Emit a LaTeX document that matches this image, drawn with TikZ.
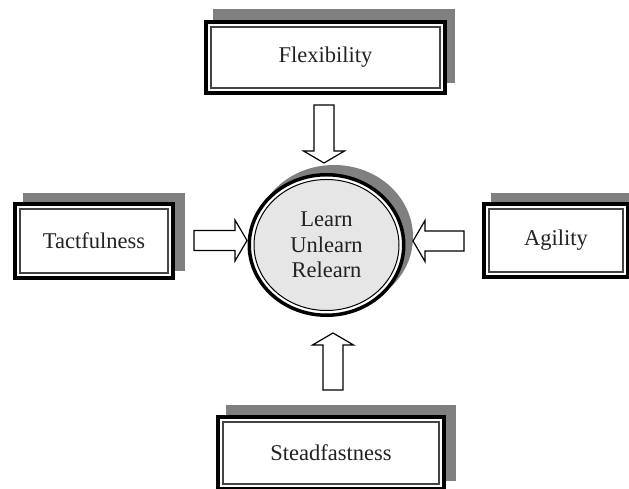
\documentclass[tikz,border=0pt]{standalone}
\usepackage{fontspec}
\setmainfont{Liberation Serif}
\usetikzlibrary{calc,shadows,shapes.geometric}

\definecolor{shadowgray}{HTML}{808080}
\definecolor{discfill}{HTML}{E6E6E6}
\definecolor{inkgray}{HTML}{222222}
\definecolor{rulegray}{HTML}{444444}

\tikzset{
  x=1pt, y=1pt,
  label text/.style={font=\fontsize{22.5}{25.5}\selectfont, text=inkgray, align=center},
  gray shadow/.style 2 args={general shadow={fill=shadowgray, draw=shadowgray,
      line width=3.5pt, shadow xshift=#1pt, shadow yshift=#2pt}},
  framebox/.style={rectangle, draw=black, line width=3.5pt, fill=white,
      inner sep=0pt, label text,
      path picture={\draw[rulegray, line width=1.2pt]
        ([shift={(5,-5)}]path picture bounding box.north west) rectangle
        ([shift={(-5,5)}]path picture bounding box.south east);}},
  hub/.style={ellipse, draw=black, line width=3.5pt, fill=white,
      inner sep=0pt, label text,
      path picture={\draw[black, line width=1pt, fill=discfill]
        (path picture bounding box.center) ellipse [x radius=72.5, y radius=65.5];}},
  blockarrow/.style={draw=black, fill=white, line width=1.2pt, line join=miter},
}

% hollow block arrow from #1 (tail) to #2 (tip)
\newcommand{\blockarrow}[2]{%
  \path ($(#2)!12pt!(#1)$) coordinate (neck);
  \draw[blockarrow]
    ($(#1)!10pt!90:(#2)$) -- ($(neck)!10pt!-90:(#1)$) --
    ($(neck)!20.5pt!-90:(#1)$) -- (#2) --
    ($(neck)!20.5pt!90:(#1)$) -- ($(neck)!10pt!90:(#1)$) --
    ($(#1)!10pt!-90:(#2)$) -- cycle;}

\begin{document}
\begin{tikzpicture}
  \useasboundingbox (0,0) rectangle (629,489);
  \clip (0,0) rectangle (629,489);

  % outer boxes
  \node[framebox, minimum width=239pt, minimum height=71pt, gray shadow={8.5}{11.5}]
    (flex) at (325.5,431.5) {Flexibility};
  \node[framebox, minimum width=158pt, minimum height=74pt, gray shadow={10}{9}]
    (tact) at (94,248) {Tactfulness};
  \node[framebox, minimum width=144pt, minimum height=73pt, gray shadow={9}{9}]
    (agil) at (556,248.5) {Agility};
  \node[framebox, minimum width=226pt, minimum height=72pt, gray shadow={10}{10}]
    (stead) at (331,36) {Steadfastness};

  % central disc
  \node[hub, minimum width=154.5pt, minimum height=140.5pt, gray shadow={7.5}{8}]
    (core) at (326.5,244) {Learn\\Unlearn\\Relearn};

  % arrow ends
  \coordinate (flexTail)  at (324,384);
  \coordinate (flexTip)   at (324,326);
  \coordinate (tactTail)  at (194,248.5);
  \coordinate (tactTip)   at (247,248.5);
  \coordinate (agilTail)  at (464,248);
  \coordinate (agilTip)   at (413,248);
  \coordinate (steadTail) at (333,99);
  \coordinate (steadTip)  at (333,156);

  \blockarrow{flexTail}{flexTip}
  \blockarrow{tactTail}{tactTip}
  \blockarrow{agilTail}{agilTip}
  \blockarrow{steadTail}{steadTip}
\end{tikzpicture}
\end{document}
